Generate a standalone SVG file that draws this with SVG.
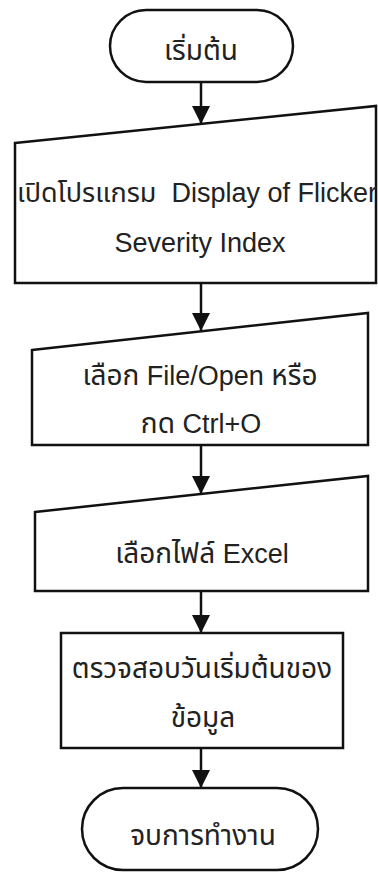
<svg xmlns="http://www.w3.org/2000/svg" width="378" height="875" viewBox="0 0 378 875">
<style>
.shape{fill:#fff;stroke:#111;stroke-width:2.5}
.conn{stroke:#111;stroke-width:2.5;fill:none}
text{font-family:"Liberation Sans","Noto Sans Thai","Noto Sans",sans-serif;font-size:27px;fill:#222;text-anchor:middle}
.th{font-size:28px}
</style>
<defs>
<marker id="ah" markerUnits="userSpaceOnUse" markerWidth="20" markerHeight="18" refX="18" refY="9" orient="auto">
<path d="M0,0 L18,9 L0,18 Z" fill="#111"/>
</marker>
</defs>
<rect width="378" height="875" fill="#fff"/>
<g id="connectors">
<line class="conn" x1="201" y1="82" x2="201" y2="124" marker-end="url(#ah)"/>
<line class="conn" x1="201" y1="283" x2="201" y2="331" marker-end="url(#ah)"/>
<line class="conn" x1="201" y1="445" x2="201" y2="494" marker-end="url(#ah)"/>
<line class="conn" x1="201" y1="591" x2="201" y2="633" marker-end="url(#ah)"/>
<line class="conn" x1="201" y1="748" x2="201" y2="788" marker-end="url(#ah)"/>
</g>
<g id="start">
<rect class="shape" x="110" y="10" width="183" height="72" rx="36"/>
<text class="th" x="201" y="60">เริ่มต้น</text>
</g>
<g id="open-program">
<polygon class="shape" points="15,143 376,106 376,283 15,283"/>
<text x="197" y="202">เปิดโปรแกรม&#160; Display of Flicker</text>
<text x="200" y="252">Severity Index</text>
</g>
<g id="file-open">
<polygon class="shape" points="32,350 368,313 368,445 32,445"/>
<text x="200" y="385"><tspan class="th">เลือก</tspan> File/Open <tspan class="th">หรือ</tspan></text>
<text x="201" y="433"><tspan class="th">กด</tspan> Ctrl+O</text>
</g>
<g id="select-excel">
<polygon class="shape" points="35,512 368,476 368,591 35,591"/>
<text x="202" y="563"><tspan class="th">เลือกไฟล์</tspan> Excel</text>
</g>
<g id="check-date">
<rect class="shape" x="61" y="633" width="282" height="115"/>
<text class="th" x="202" y="678">ตรวจสอบวันเริ่มต้นของ</text>
<text class="th" x="203" y="727">ข้อมูล</text>
</g>
<g id="end">
<rect class="shape" x="82" y="788" width="236" height="82" rx="41"/>
<text class="th" x="203" y="845">จบการทำงาน</text>
</g>
</svg>
